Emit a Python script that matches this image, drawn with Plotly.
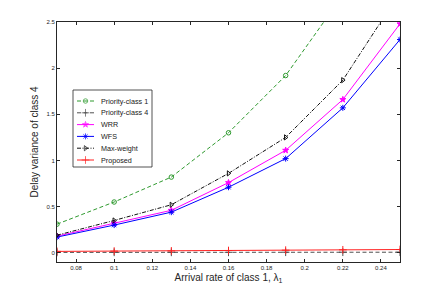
import plotly.graph_objects as go

# ---- data ----
arrival_rate = [0.07, 0.10, 0.13, 0.16, 0.19, 0.22, 0.25]
priority_class1 = [0.31, 0.55, 0.82, 1.30, 1.92, 2.79, 4.00]
priority_class4 = [0.004, 0.005, 0.005, 0.005, 0.006, 0.006, 0.006]
wrr = [0.18, 0.32, 0.46, 0.76, 1.11, 1.66, 2.48]
wfs = [0.17, 0.30, 0.44, 0.71, 1.02, 1.57, 2.31]
max_weight = [0.19, 0.35, 0.52, 0.86, 1.25, 1.87, 2.82]
proposed = [0.015, 0.018, 0.020, 0.024, 0.028, 0.032, 0.035]

x_ticks = [0.08, 0.10, 0.12, 0.14, 0.16, 0.18, 0.20, 0.22, 0.24]
x_ticklabels = ["0.08", "0.1", "0.12", "0.14", "0.16", "0.18", "0.2", "0.22", "0.24"]
y_ticks = [0, 0.5, 1, 1.5, 2, 2.5]
y_ticklabels = ["0", "0.5", "1", "1.5", "2", "2.5"]

FONT = "Liberation Sans, Arial, Helvetica, sans-serif"
AX = "#262626"

series = [
    dict(name="Priority-class 1", y=priority_class1, color="#2f9a2f", dash="4px,2.5px",
         symbol="circle-open", size=4.5),
    dict(name="Priority-class 4", y=priority_class4, color="#505050", dash="4px,2.5px",
         symbol="cross-thin-open", size=5.5),
    dict(name="WRR", y=wrr, color="#ff00ff", dash="solid",
         symbol="star", size=4.5),
    dict(name="WFS", y=wfs, color="#0000ff", dash="solid",
         symbol="asterisk-open", size=5),
    dict(name="Max-weight", y=max_weight, color="#111111", dash="4px,1.5px,1px,1.5px",
         symbol="triangle-right-open", size=4.5),
    dict(name="Proposed", y=proposed, color="#ff2020", dash="solid",
         symbol="cross-thin-open", size=5.5),
]

fig = go.Figure()
for s in series:
    fig.add_trace(go.Scatter(
        x=arrival_rate, y=s["y"], mode="lines+markers", name=s["name"],
        line=dict(color=s["color"], width=1, dash=s["dash"]),
        marker=dict(symbol=s["symbol"], size=s["size"], color=s["color"],
                    line=dict(color=s["color"], width=1)),
        showlegend=False, cliponaxis=True,
    ))

# ---- custom compact legend (pixel-like overlay axes) ----
leg_rows = [101, 112.8, 124.6, 136.4, 148.2, 160]
for s, ry in zip(series, leg_rows):
    fig.add_trace(go.Scatter(
        x=[77, 85.5, 94], y=[ry, ry, ry], xaxis="x2", yaxis="y2",
        mode="lines+markers", showlegend=False, hoverinfo="skip",
        line=dict(color=s["color"], width=1, dash=s["dash"]),
        marker=dict(symbol=s["symbol"], size=[0, s["size"], 0], color=s["color"],
                    line=dict(color=s["color"], width=1)),
    ))
    fig.add_annotation(x=98.5, y=ry, xref="x2", yref="y2", text=s["name"],
                       showarrow=False, xanchor="left", yanchor="middle",
                       font=dict(family=FONT, size=7.2, color="#202020"))

fig.add_shape(type="rect", xref="x2", yref="y2", x0=73, x1=152, y0=90, y1=167,
              line=dict(color=AX, width=0.8), fillcolor="white", layer="below")

fig.update_layout(
    width=442, height=295,
    margin=dict(l=57, r=42, t=22, b=33),
    paper_bgcolor="white", plot_bgcolor="white",
    font=dict(family=FONT, color=AX),
    showlegend=False,
    xaxis=dict(
        range=[0.07, 0.25], tickvals=x_ticks, ticktext=x_ticklabels,
        ticks="inside", ticklen=3, tickwidth=0.7, tickcolor=AX,
        showline=True, linecolor=AX, linewidth=0.8, mirror="ticks",
        showgrid=False, zeroline=False,
        tickfont=dict(family=FONT, size=6, color=AX),
        title=dict(text="Arrival rate of class 1, λ<sub>1</sub>",
                   font=dict(family=FONT, size=10, color=AX), standoff=3),
    ),
    yaxis=dict(
        range=[-0.1, 2.5], tickvals=y_ticks, ticktext=y_ticklabels,
        ticks="inside", ticklen=3, tickwidth=0.7, tickcolor=AX,
        showline=True, linecolor=AX, linewidth=0.8, mirror="ticks",
        showgrid=False, zeroline=False,
        tickfont=dict(family=FONT, size=6, color=AX),
        title=dict(text="Delay variance of class 4",
                   font=dict(family=FONT, size=10, color=AX), standoff=6),
    ),
    xaxis2=dict(range=[57, 400], overlaying="x", anchor="y2", visible=False,
                fixedrange=True),
    yaxis2=dict(range=[262, 22], overlaying="y", anchor="x2", visible=False,
                fixedrange=True),
)

fig.write_html("out.html", config={"displayModeBar": False},
               post_script="document.body.style.margin='0';document.body.style.padding='0';")
